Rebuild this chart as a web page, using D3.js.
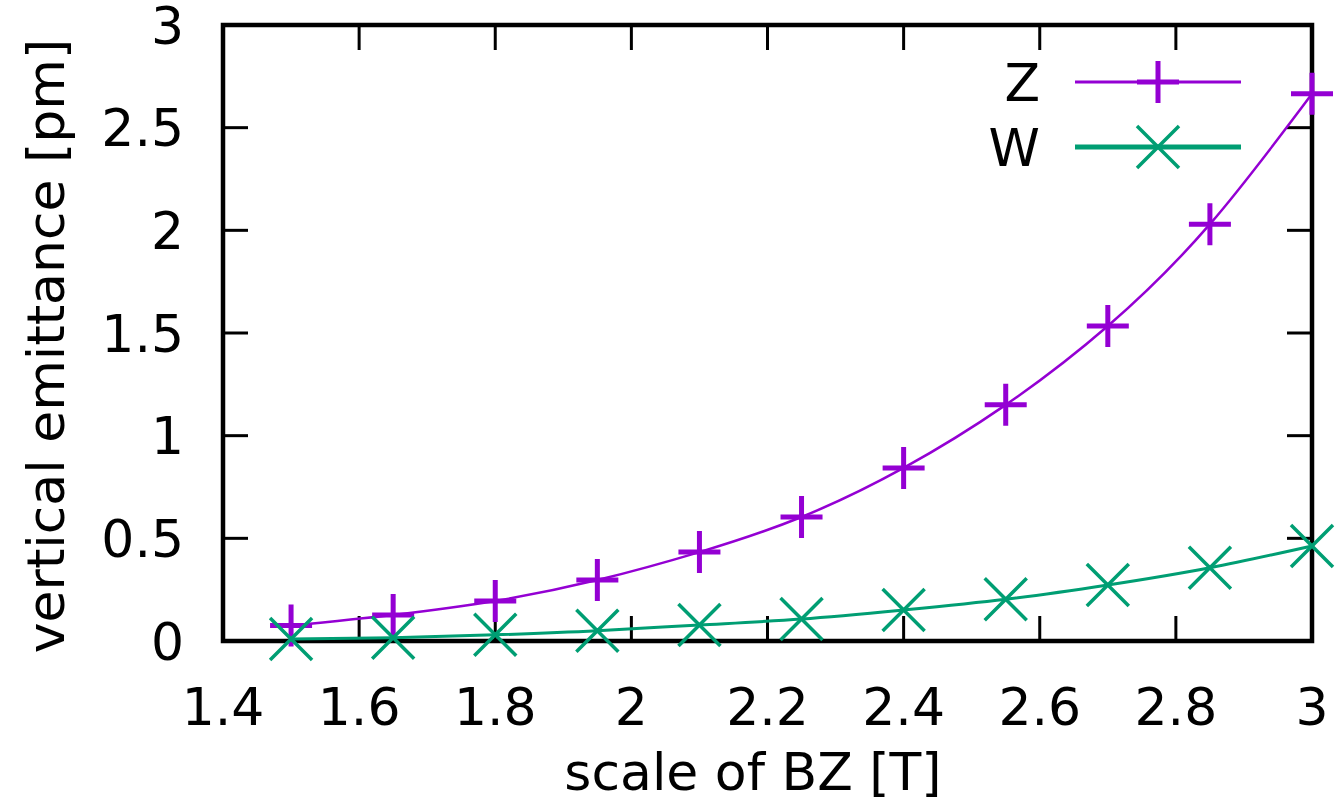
<!DOCTYPE html>
<html>
<head>
<meta charset="utf-8">
<script src="https://cdn.jsdelivr.net/npm/d3@7"></script>
<style>
  body { margin: 0; background: #fff; }
  text { font-family: "DejaVu Sans", sans-serif; fill: #000; }
</style>
</head>
<body>
<div id="chart"></div>
<script>
    "use strict";

    // scale of BZ [T]
    var bzScale = [1.5, 1.65, 1.8, 1.95, 2.1, 2.25, 2.4, 2.55, 2.7, 2.85, 3.0];
    // vertical emittance [pm]
    var zValues = [0.075, 0.127, 0.195, 0.297, 0.433, 0.604, 0.843, 1.15, 1.534, 2.03, 2.665];
    var wValues = [0.01, 0.016, 0.03, 0.05, 0.078, 0.107, 0.151, 0.203, 0.273, 0.357, 0.463];

    var xTicks = [1.4, 1.6, 1.8, 2, 2.2, 2.4, 2.6, 2.8, 3];
    var yTicks = [0, 0.5, 1, 1.5, 2, 2.5, 3];

    var series = [
        { name: "Z", values: zValues, color: "#9400d3", marker: "plus" },
        { name: "W", values: wValues, color: "#009e73", marker: "cross" }
    ];

    var width = 1341;
    var height = 802;
    var margin = { left: 223, right: 29, top: 25, bottom: 161 };

    var svg = d3.select("#chart").append("svg")
        .attr("width", width)
        .attr("height", height);

    var x = d3.scaleLinear().domain([1.4, 3]).range([margin.left, width - margin.right]);
    var y = d3.scaleLinear().domain([0, 3]).range([height - margin.bottom, margin.top]);

    var fontSize = 52;
    var tickLen = 25;

    // frame with mirrored inner ticks
    var frame = svg.append("g");
    frame.append("rect")
        .attr("x", x(1.4)).attr("y", y(3))
        .attr("width", x(3) - x(1.4)).attr("height", y(0) - y(3))
        .attr("fill", "none").attr("stroke", "#000").attr("stroke-width", 4.5);

    xTicks.forEach(function (t) {
        frame.append("line")
            .attr("x1", x(t)).attr("x2", x(t))
            .attr("y1", y(0)).attr("y2", y(0) - tickLen)
            .attr("stroke", "#000").attr("stroke-width", 3);
        frame.append("line")
            .attr("x1", x(t)).attr("x2", x(t))
            .attr("y1", y(3)).attr("y2", y(3) + tickLen)
            .attr("stroke", "#000").attr("stroke-width", 3);
        frame.append("text")
            .attr("x", x(t)).attr("y", 725)
            .attr("text-anchor", "middle")
            .style("font-size", fontSize + "px")
            .text(String(t));
    });

    yTicks.forEach(function (t) {
        frame.append("line")
            .attr("x1", x(1.4)).attr("x2", x(1.4) + tickLen)
            .attr("y1", y(t)).attr("y2", y(t))
            .attr("stroke", "#000").attr("stroke-width", 3);
        frame.append("line")
            .attr("x1", x(3)).attr("x2", x(3) - tickLen)
            .attr("y1", y(t)).attr("y2", y(t))
            .attr("stroke", "#000").attr("stroke-width", 3);
        frame.append("text")
            .attr("x", 184).attr("y", y(t))
            .attr("dy", "0.36em")
            .attr("text-anchor", "end")
            .style("font-size", fontSize + "px")
            .text(String(t));
    });

    // axis titles
    svg.append("text")
        .attr("x", 753).attr("y", 790)
        .attr("text-anchor", "middle")
        .style("font-size", fontSize + "px")
        .text("scale of BZ [T]");

    svg.append("text")
        .attr("transform", "translate(64,346) rotate(-90)")
        .attr("text-anchor", "middle")
        .style("font-size", fontSize + "px")
        .text("vertical emittance [pm]");

    function drawMarker(g, kind, cx, cy, color) {
        var s = 21;
        if (kind === "plus") {
            g.append("path")
                .attr("d", "M" + (cx - s) + "," + cy + "H" + (cx + s) + "M" + cx + "," + (cy - s) + "V" + (cy + s))
                .attr("stroke", color).attr("stroke-width", 5).attr("fill", "none");
        } else {
            g.append("path")
                .attr("d", "M" + (cx - s) + "," + (cy - s) + "L" + (cx + s) + "," + (cy + s) +
                    "M" + (cx - s) + "," + (cy + s) + "L" + (cx + s) + "," + (cy - s))
                .attr("stroke", color).attr("stroke-width", 3.5).attr("fill", "none");
        }
    }

    var line = d3.line()
        .x(function (d) { return x(d[0]); })
        .y(function (d) { return y(d[1]); })
        .curve(d3.curveNatural);

    var plot = svg.append("g");
    series.forEach(function (s) {
        var pts = bzScale.map(function (b, i) { return [b, s.values[i]]; });
        plot.append("path")
            .datum(pts)
            .attr("d", line)
            .attr("fill", "none")
            .attr("stroke", s.color)
            .attr("stroke-width", s.marker === "plus" ? 2.5 : 3);
        pts.forEach(function (p) {
            drawMarker(plot, s.marker, x(p[0]), y(p[1]), s.color);
        });
    });

    // legend
    var legend = svg.append("g");
    var legendY = [82, 147];
    series.forEach(function (s, i) {
        legend.append("text")
            .attr("x", 1040).attr("y", legendY[i])
            .attr("dy", "0.37em")
            .attr("text-anchor", "end")
            .style("font-size", fontSize + "px")
            .text(s.name);
        legend.append("line")
            .attr("x1", 1075).attr("x2", 1241)
            .attr("y1", legendY[i]).attr("y2", legendY[i])
            .attr("stroke", s.color)
            .attr("stroke-width", s.marker === "plus" ? 3 : 5);
        drawMarker(legend, s.marker, 1158, legendY[i], s.color);
    });
</script>
</body>
</html>
